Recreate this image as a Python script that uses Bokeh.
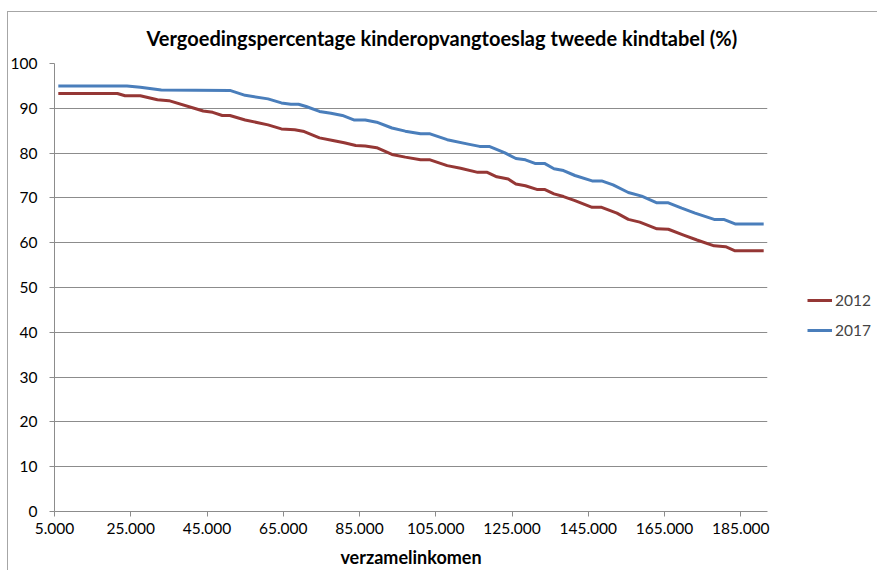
from bokeh.plotting import figure
from bokeh.models import Legend, LegendItem, FixedTicker, Range1d
from bokeh.embed import file_html
from bokeh.resources import INLINE

# ---- data ----
title_text = "Vergoedingspercentage kinderopvangtoeslag tweede kindtabel (%)"
x_label = "verzamelinkomen"
series_names = ["2012", "2017"]

x_2012 = [6000, 21500, 23500, 27500, 32000, 35000, 42500, 44000, 46500, 49000, 51000,
          55000, 61000, 64500, 68000, 70500, 74500, 78000, 81000, 84000, 86500, 89500,
          93500, 97000, 101000, 103500, 108000, 111500, 116000, 118500, 121000, 124000,
          126000, 128500, 131500, 133500, 136000, 138500, 141500, 146000, 148500, 152500,
          155500, 158500, 163000, 166000, 170000, 173500, 178000, 181000, 183500, 191000]
y_2012 = [93.3, 93.3, 92.8, 92.8, 91.9, 91.7, 89.8, 89.4, 89.1, 88.4, 88.4,
          87.4, 86.3, 85.4, 85.2, 84.8, 83.4, 82.8, 82.3, 81.7, 81.6, 81.2,
          79.7, 79.1, 78.5, 78.5, 77.2, 76.6, 75.7, 75.7, 74.7, 74.2,
          73.1, 72.7, 71.9, 71.9, 70.9, 70.3, 69.4, 67.9, 67.9, 66.6,
          65.2, 64.6, 63.1, 63.0, 61.7, 60.6, 59.3, 59.1, 58.2, 58.2]

x_2017 = [6000, 24000, 27500, 33000, 51000, 55000, 61000, 64500, 67000, 69000, 71000,
          74500, 77500, 80500, 83500, 86500, 89500, 93500, 97000, 101000, 103500, 108000,
          113500, 116500, 119000, 123000, 126000, 128500, 131000, 133500, 136000, 138500,
          141500, 146000, 148500, 151500, 155500, 159000, 163000, 166000, 169500, 173000,
          178000, 180500, 183500, 191000]
y_2017 = [95.0, 95.0, 94.7, 94.1, 94.0, 92.9, 92.1, 91.2, 90.9, 90.9, 90.4,
          89.3, 88.9, 88.4, 87.4, 87.4, 86.9, 85.6, 84.9, 84.3, 84.3, 83.0,
          82.0, 81.5, 81.5, 80.1, 78.8, 78.5, 77.7, 77.7, 76.5, 76.1,
          75.0, 73.8, 73.8, 72.9, 71.2, 70.4, 68.9, 68.9, 67.7, 66.6,
          65.2, 65.2, 64.2, 64.2]

x_ticks = [5000, 25000, 45000, 65000, 85000, 105000, 125000, 145000, 165000, 185000]
y_ticks = [0, 10, 20, 30, 40, 50, 60, 70, 80, 90, 100]

# ---- style ----
FONT = "Lato"
GRAY = "#8c8c8c"
RED = "#953735"
BLUE = "#4a7ebb"

p = figure(frame_width=713, frame_height=448, output_backend="svg", toolbar_location=None,
           x_range=Range1d(5000, 192000), y_range=Range1d(0, 100),
           min_border_left=54, min_border_right=102, min_border_top=63, min_border_bottom=59)
p.border_fill_color = None
p.styles = {
    "background": ("linear-gradient(#a6a6a6,#a6a6a6) 7px 11px / 1px 100% no-repeat, "
                   "linear-gradient(#a6a6a6,#a6a6a6) 7px 11px / 100% 1px no-repeat, white"),
}

r12 = p.line(x_2012, y_2012, line_color=RED, line_width=3, line_join="round")
r17 = p.line(x_2017, y_2017, line_color=BLUE, line_width=3, line_join="round")

p.title.text = title_text
p.title.align = "left"
p.title.offset = 92
p.title.text_font = FONT
p.title.text_font_size = "20px"
p.title.text_font_style = "bold"
p.title.text_color = "black"
p.title.standoff = 28

p.outline_line_color = None
p.xgrid.visible = False
p.ygrid.grid_line_color = GRAY
p.ygrid.grid_line_width = 1

p.xaxis.ticker = FixedTicker(ticks=x_ticks)
p.xaxis.major_label_overrides = {t: f"{t:,}".replace(",", ".") for t in x_ticks}
p.yaxis.ticker = FixedTicker(ticks=y_ticks)

for ax in (p.xaxis[0], p.yaxis[0]):
    ax.axis_line_color = GRAY
    ax.major_tick_line_color = GRAY
    ax.major_tick_out = 5
    ax.major_tick_in = 0
    ax.minor_tick_line_color = None
    ax.major_label_text_font = FONT
    ax.major_label_text_font_size = "15.5px"
    ax.major_label_text_color = "black"

p.yaxis.major_label_standoff = 12
p.xaxis.major_label_standoff = 6
p.xaxis.axis_label = x_label
p.xaxis.axis_label_text_font = FONT
p.xaxis.axis_label_text_font_size = "18px"
p.xaxis.axis_label_text_font_style = "bold"
p.xaxis.axis_label_text_color = "black"
p.xaxis.axis_label_standoff = 9

legend = Legend(items=[LegendItem(label=series_names[0], renderers=[r12]),
                       LegendItem(label=series_names[1], renderers=[r17])],
                location=(40, 171))
legend.border_line_color = None
legend.background_fill_alpha = 0
legend.label_text_font = FONT
legend.label_text_font_size = "15.5px"
legend.glyph_width = 25
legend.glyph_height = 20
legend.label_height = 20
legend.spacing = 10
legend.padding = 0
legend.margin = 0
legend.label_standoff = 3
p.add_layout(legend, "right")

open("out.html", "w").write(file_html(p, INLINE))
